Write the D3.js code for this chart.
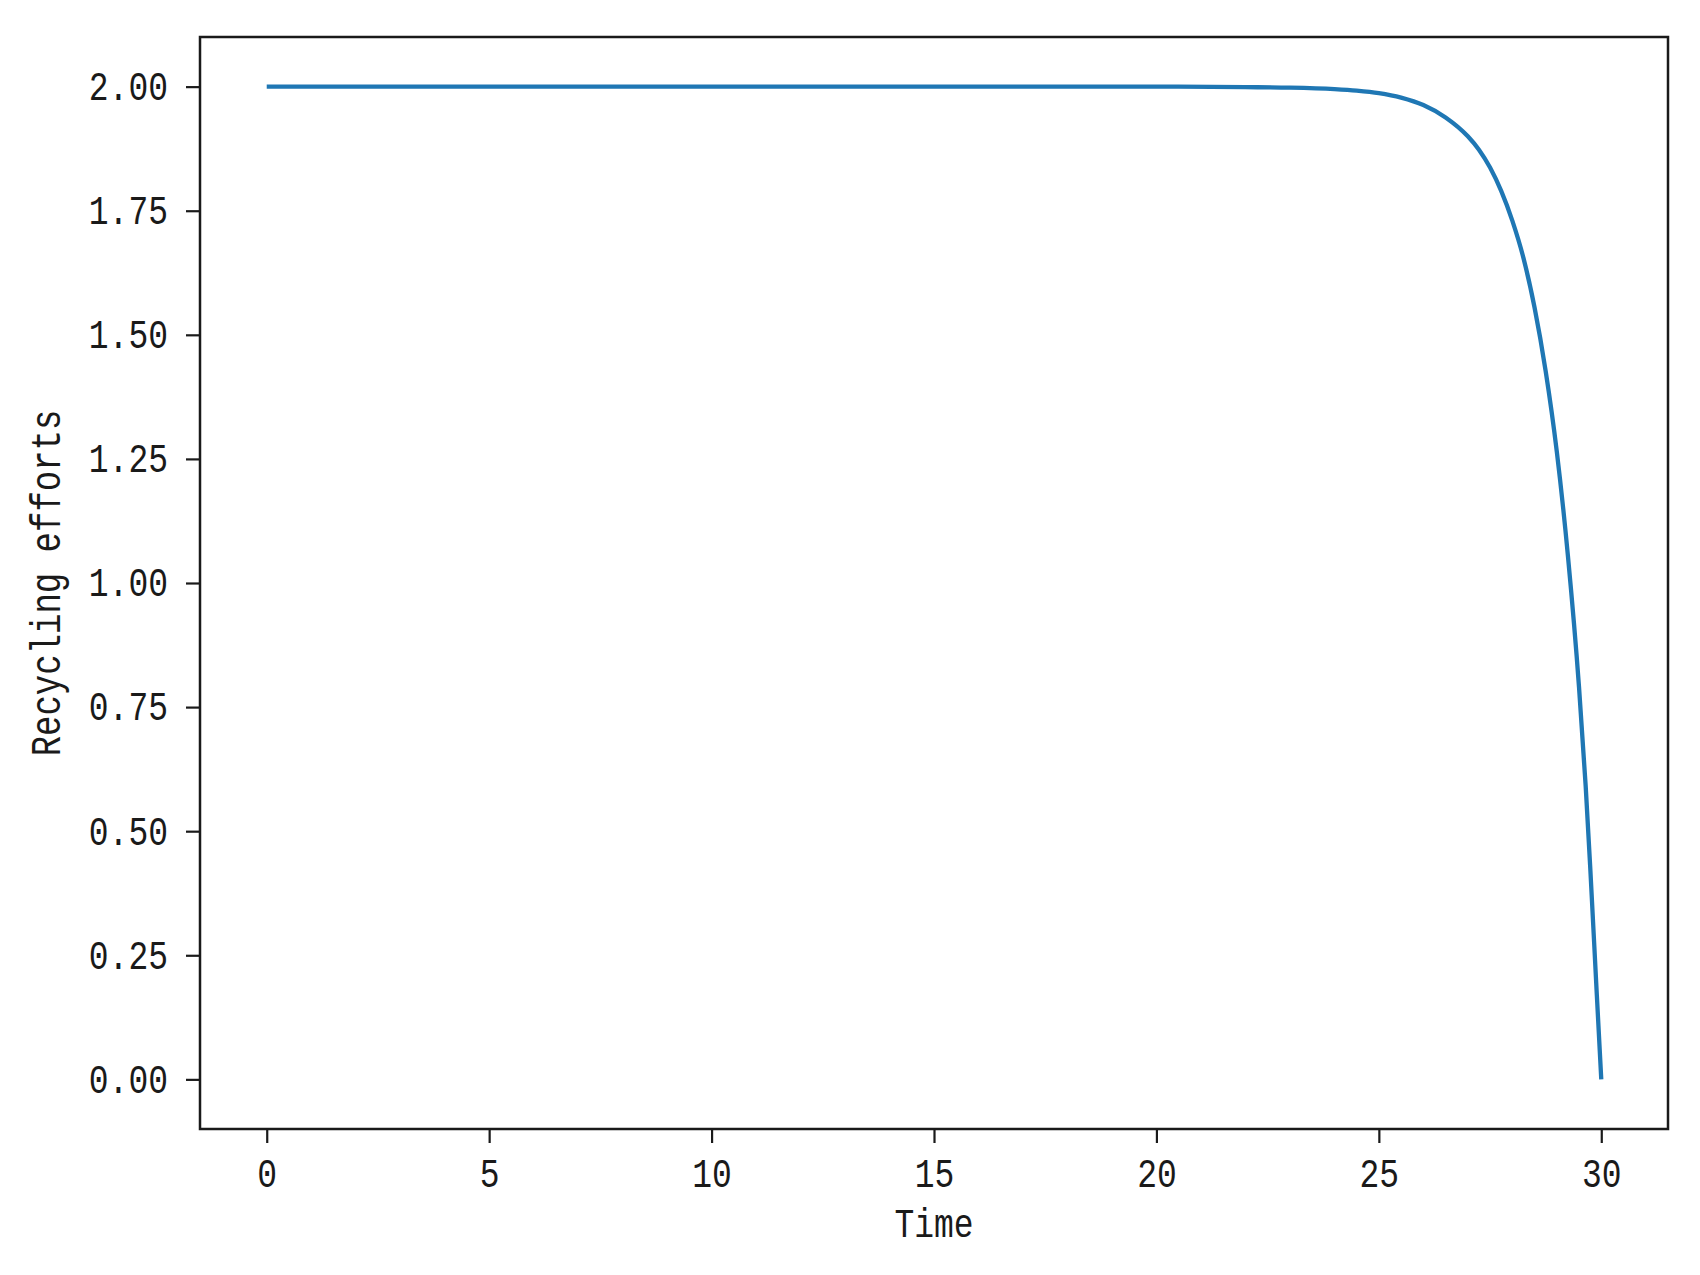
<!DOCTYPE html>
<html>
<head>
<meta charset="utf-8">
<script src="https://cdn.jsdelivr.net/npm/d3@7"></script>
<style>
  body { margin: 0; background: #fff; }
  svg text { font-family: "Liberation Mono", "DejaVu Sans Mono", monospace; fill: #1a1a1a; }
  .tall { transform-box: fill-box; transform-origin: center; transform: scaleY(1.26); }
</style>
</head>
<body>
<div id="chart"></div>
<script>
// time points and recycling effort
var time = [0, 5, 10, 15, 20, 22, 23, 24, 24.5, 25, 25.5, 26, 26.5, 27, 27.25, 27.5, 27.75, 28, 28.25, 28.5, 28.75, 29, 29.25, 29.5, 29.65, 29.75, 29.9, 30];
var effort = [2.0, 2.0, 2.0, 2.0, 2.0, 1.999, 1.998, 1.995, 1.992, 1.987, 1.978, 1.963, 1.938, 1.9, 1.873, 1.837, 1.79, 1.73, 1.655, 1.555, 1.427, 1.265, 1.055, 0.79, 0.59, 0.43, 0.17, 0];
var xTicks = [0, 5, 10, 15, 20, 25, 30];
var yTicks = [0, 0.25, 0.5, 0.75, 1.0, 1.25, 1.5, 1.75, 2.0];

var width = 1700, height = 1275;
var plotLeft = 200, plotRight = 1668, plotTop = 37, plotBottom = 1129;

var svg = d3.select('#chart')
  .append('svg')
  .attr('width', width)
  .attr('height', height);

var x = d3.scaleLinear().domain([-1.5, 31.5]).range([plotLeft, plotRight]);
var y = d3.scaleLinear().domain([-0.1, 2.1]).range([plotBottom, plotTop]);

var pts = time.map(function(t, i) { return [t, effort[i]]; });

var line = d3.line()
  .x(function(d) { return x(d[0]); })
  .y(function(d) { return y(d[1]); })
  .curve(d3.curveMonotoneX);

svg.append('path')
  .datum(pts)
  .attr('d', line)
  .style('fill', 'none')
  .style('stroke', '#1f77b4')
  .style('stroke-width', 4.3);

// x axis
var gx = svg.append('g')
  .attr('transform', 'translate(0,' + plotBottom + ')')
  .call(d3.axisBottom(x).tickValues(xTicks).tickSize(14).tickPadding(18)
    .tickFormat(d3.format('d')));

// y axis
var gy = svg.append('g')
  .attr('transform', 'translate(' + plotLeft + ',0)')
  .call(d3.axisLeft(y).tickValues(yTicks).tickSize(14).tickPadding(18)
    .tickFormat(d3.format('.2f')));

[gx, gy].forEach(function(g) {
  g.select('.domain').remove();
  g.selectAll('.tick line').style('stroke', '#1a1a1a').style('stroke-width', 2.2);
  g.selectAll('.tick text')
    .attr('class', 'tall')
    .style('font-size', '33px');
});

// frame
svg.append('rect')
  .attr('x', plotLeft)
  .attr('y', plotTop)
  .attr('width', plotRight - plotLeft)
  .attr('height', plotBottom - plotTop)
  .style('fill', 'none')
  .style('stroke', '#1a1a1a')
  .style('stroke-width', 2.5);

svg.append('text')
  .attr('class', 'tall')
  .attr('x', (plotLeft + plotRight) / 2)
  .attr('y', 1235)
  .attr('text-anchor', 'middle')
  .style('font-size', '33px')
  .text('Time');

svg.append('g')
  .attr('transform', 'translate(58,' + ((plotTop + plotBottom) / 2) + ') rotate(-90)')
  .append('text')
  .attr('class', 'tall')
  .attr('text-anchor', 'middle')
  .style('font-size', '34px')
  .text('Recycling efforts');
</script>
</body>
</html>
